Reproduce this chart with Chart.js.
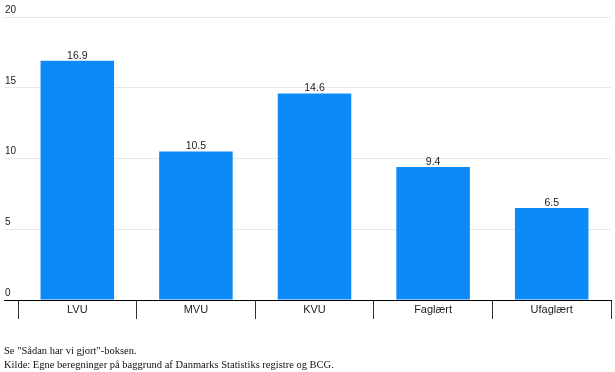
<!DOCTYPE html>
<html>
<head>
<meta charset="utf-8">
<script src="https://cdn.jsdelivr.net/npm/chart.js@4"></script>
<style>
  html, body { margin: 0; padding: 0; background: #fff; }
  #wrap { position: relative; width: 615px; height: 372px; }
  .note { position: absolute; left: 4px; font-family: "Liberation Serif", "Times New Roman", serif; font-size: 10.5px; line-height: 13px; color: #111; white-space: nowrap; }
</style>
</head>
<body>
<div id="wrap">
  <canvas id="chart" width="615" height="372"></canvas>
  <div class="note" style="top:344px">Se "Sådan har vi gjort"-boksen.</div>
  <div class="note" style="top:358px">Kilde: Egne beregninger på baggrund af Danmarks Statistiks registre og BCG.</div>
</div>
<script>
// Data
const categories = ["LVU", "MVU", "KVU", "Faglært", "Ufaglært"];
const values = [16.9, 10.5, 14.6, 9.4, 6.5];
const yTicks = [0, 5, 10, 15, 20];

// Værdier over søjlerne
const barLabels = {
  id: "barLabels",
  afterDatasetsDraw(chart) {
    const c = chart.ctx;
    const meta = chart.getDatasetMeta(0);
    c.save();
    c.font = "10.5px Arial, 'Liberation Sans', sans-serif";
    c.fillStyle = "#222";
    c.textAlign = "center";
    c.textBaseline = "alphabetic";
    meta.data.forEach((bar, i) => {
      c.fillText(values[i].toFixed(1), bar.x, bar.y - 2);
    });
    c.restore();
  }
};

new Chart(document.getElementById("chart"), {
  type: "bar",
  data: {
    labels: categories,
    datasets: [{
      data: values,
      backgroundColor: "#0c8af5",
      borderWidth: 0,
      barPercentage: 0.62,
      categoryPercentage: 1
    }]
  },
  options: {
    responsive: false,
    animation: false,
    layout: { padding: { top: 17, left: 4, right: 4, bottom: 53 } },
    plugins: { legend: { display: false }, tooltip: { enabled: false } },
    scales: {
      x: {
        offset: true,
        afterFit: (scale) => { scale.height = 19; },
        grid: {
          offset: true,
          drawOnChartArea: false,
          drawTicks: true,
          tickLength: 19,
          color: "#333"
        },
        border: { display: true, color: "#000", width: 1 },
        ticks: {
          padding: -16,
          color: "#222",
          font: { family: "Arial, 'Liberation Sans', sans-serif", size: 11 }
        }
      },
      y: {
        min: 0,
        max: 20,
        afterBuildTicks: (scale) => { scale.ticks = yTicks.map(v => ({ value: v })); },
        afterFit: (scale) => { scale.width = 14; },
        grid: {
          drawTicks: true,
          tickLength: 14,
          color: (ctx) => ctx.tick && ctx.tick.value === 0 ? "#000" : "#e8e8e8"
        },
        border: { display: false },
        ticks: {
          mirror: true,
          padding: -13,
          labelOffset: -7,
          color: "#222",
          font: { family: "Arial, 'Liberation Sans', sans-serif", size: 10 }
        }
      }
    }
  },
  plugins: [barLabels]
});
</script>
</body>
</html>
